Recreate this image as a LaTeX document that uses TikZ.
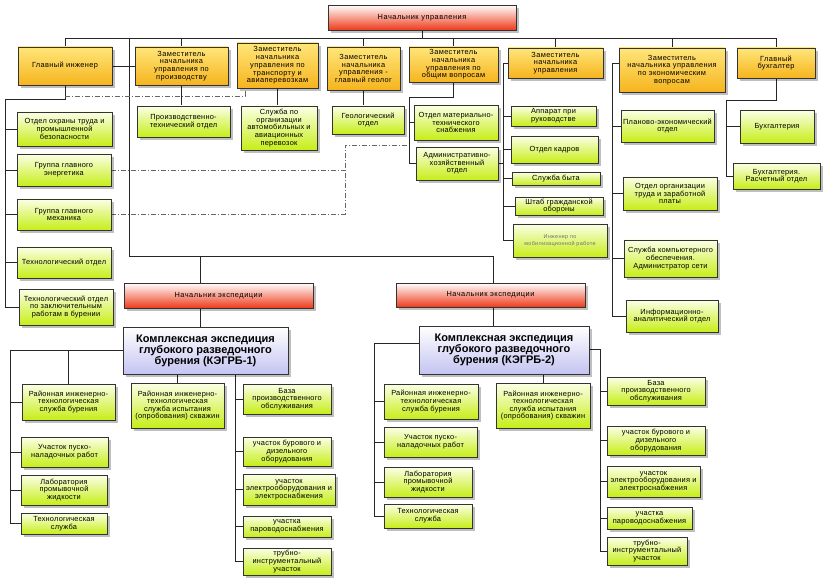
\documentclass[tikz,border=0pt]{standalone}
\usepackage{fontspec}
\newfontfamily\lbl{Liberation Sans}[LetterSpace=3]
\newfontfamily\lblo{Liberation Sans}[LetterSpace=5]
\newfontfamily\lblw{Liberation Sans}[LetterSpace=7]
\newfontfamily\ttl{Liberation Sans}
\usetikzlibrary{shadows,backgrounds}
\definecolor{grtop}{HTML}{FBFFE6}
\definecolor{grbot}{HTML}{C6EE18}
\definecolor{ortop}{HTML}{FFE67A}
\definecolor{orbot}{HTML}{F6B41E}
\definecolor{rdbot}{HTML}{EE3A1A}
\definecolor{lvbot}{HTML}{C4C4F2}
\newcommand\bx[7]{\node[#2,anchor=north west,minimum width={(#5-#3)*1pt},minimum height={(#6-#4)*1pt}] (#1) at (#3,#4) {#7};}
\tikzset{
 basebox/.style={draw=black!80, line width=0.7pt, inner sep=0.5pt, outer sep=0pt, align=center,
   drop shadow={shadow xshift=3pt, shadow yshift=-3pt, fill=black, opacity=0.25}},
 orbox/.style={basebox, top color=ortop, bottom color=orbot, font=\lblo\fontsize{7.4}{7.7}\selectfont},
 grbox/.style={basebox, top color=grtop, bottom color=grbot, font=\lbl\fontsize{7.4}{7.6}\selectfont},
 rdbox/.style={basebox, top color=white, bottom color=rdbot, font=\lblw\fontsize{7.4}{7.6}\selectfont},
 lvbox/.style={basebox, top color=white, bottom color=lvbot, font=\ttl\bfseries\fontsize{11}{11}\selectfont},
 imbox/.style={grbox, font=\lblo\fontsize{5.5}{6.5}\selectfont, text=black!55},
 conn/.style={draw=black!85, line width=0.7pt},
 dd/.style={draw=black!60, line width=0.7pt, dash pattern=on 5pt off 2pt on 1pt off 2pt},
}
\begin{document}
\begin{tikzpicture}[x=1pt,y=-1pt]
\useasboundingbox (0,0) rectangle (823,583);
% top
\bx{nu}{rdbox}{328}{5}{516}{30}{Начальник управления}
\bx{gi}{orbox}{18}{47}{112}{85}{Главный инженер}
\bx{zp}{orbox}{135}{47}{228}{85}{Заместитель\\начальника\\управления по\\производству}
\bx{zt}{orbox}{237}{43}{318}{88}{Заместитель\\начальника\\управления по\\транспорту и\\авиаперевозкам}
\bx{zg}{orbox}{327}{47}{400}{90}{Заместитель\\начальника\\управления -\\главный геолог}
\bx{zo}{orbox}{409}{47}{498}{82}{Заместитель\\начальника\\управления по\\общим вопросам}
\bx{zn}{orbox}{508}{48}{603}{78}{Заместитель\\начальника\\управления}
\bx{ze}{orbox}{619}{48}{725}{92}{Заместитель\\начальника управления\\по экономическим\\вопросам}
\bx{gb}{orbox}{737}{48}{815}{78}{Главный\\бухгалтер}
% left column
\bx{ot}{grbox}{17}{112}{112}{146}{Отдел охраны труда и\\промышленной\\безопасности}
\bx{ge}{grbox}{17}{154}{111}{186}{Группа главного\\энергетика}
\bx{gm}{grbox}{17}{199}{111}{230}{Группа главного\\механика}
\bx{to}{grbox}{17}{247}{111}{278}{Технологический отдел}
\bx{tz}{grbox}{19}{289}{113}{325}{Технологический отдел\\по заключительным\\работам в бурении}
% middle
\bx{pt}{grbox}{137}{106}{230}{137}{Производственно-\\технический отдел}
\bx{sa}{grbox}{241}{106}{317}{150}{Служба по\\организации\\автомобильных и\\авиационных\\перевозок}
\bx{go}{grbox}{332}{106}{404}{134}{Геологический\\отдел}
\bx{mts}{grbox}{414}{105}{498}{140}{Отдел материально-\\технического\\снабжения}
\bx{ah}{grbox}{416}{147}{498}{180}{Административно-\\хозяйственный\\отдел}
\bx{ap}{grbox}{511}{106}{596}{126}{Аппарат при\\руководстве}
\bx{ok}{grbox}{511}{136}{598}{163}{Отдел кадров}
\bx{sb}{grbox}{512}{172}{600}{185}{Служба быта}
\bx{sh}{grbox}{515}{197}{603}{215}{Штаб гражданской\\обороны}
\bx{im}{imbox}{513}{224}{607}{257}{Инженер по\\мобилизационной работе}
\bx{pe}{grbox}{621}{110}{714}{142}{Планово-экономический\\отдел}
\bx{ou}{grbox}{623}{177}{717}{210}{Отдел организации\\труда и заработной\\платы}
\bx{sk}{grbox}{624}{240}{717}{277}{Служба компьютерного\\обеспечения.\\Администратор сети}
\bx{ia}{grbox}{626}{300}{718}{332}{Информационно-\\аналитический отдел}
\bx{bu}{grbox}{740}{110}{814}{143}{Бухгалтерия}
\bx{br}{grbox}{733}{163}{820}{189}{Бухгалтерия.\\Расчетный отдел}
% expeditions
\bx{ne1}{rdbox}{124}{283}{313}{308}{Начальник экспедиции}
\bx{ne2}{rdbox}{396}{283}{585}{307}{Начальник экспедиции}
\bx{k1}{lvbox}{123}{327}{288}{374}{Комплексная экспедиция\\глубокого разведочного\\бурения (КЭГРБ-1)}
\bx{k2}{lvbox}{419}{326}{589}{374}{Комплексная экспедиция\\глубокого разведочного\\бурения (КЭГРБ-2)}
% KEGRB-1 children
\bx{a1}{grbox}{22}{384}{115}{420}{Районная инженерно-\\технологическая\\служба бурения}
\bx{a2}{grbox}{21}{437}{108}{467}{Участок пуско-\\наладочных работ}
\bx{a3}{grbox}{21}{475}{107}{505}{Лаборатория\\промывочной\\жидкости}
\bx{a4}{grbox}{21}{513}{107}{534}{Технологическая\\служба}
\bx{a5}{grbox}{131}{383}{224}{428}{Районная инженерно-\\технологическая\\служба испытания\\(опробования) скважин}
\bx{b1}{grbox}{243}{384}{331}{414}{База\\производственного\\обслуживания}
\bx{b2}{grbox}{243}{437}{331}{466}{участок бурового и\\дизельного\\оборудования}
\bx{b3}{grbox}{243}{474}{335}{505}{участок\\электрооборудования и\\электроснабжения}
\bx{b4}{grbox}{243}{516}{331}{537}{участка\\пароводоснабжения}
\bx{b5}{grbox}{243}{548}{331}{575}{трубно-\\инструментальный\\участок}
% KEGRB-2 children
\bx{c1}{grbox}{384}{384}{478}{419}{Районная инженерно-\\технологическая\\служба бурения}
\bx{c2}{grbox}{384}{427}{477}{457}{Участок пуско-\\наладочных работ}
\bx{c3}{grbox}{384}{467}{472}{497}{Лаборатория\\промывочной\\жидкости}
\bx{c4}{grbox}{384}{504}{472}{528}{Технологическая\\служба}
\bx{c5}{grbox}{496}{383}{590}{428}{Районная инженерно-\\технологическая\\служба испытания\\(опробования) скважин}
\bx{d1}{grbox}{607}{377}{705}{405}{База\\производственного\\обслуживания}
\bx{d2}{grbox}{607}{426}{705}{455}{участок бурового и\\дизельного\\оборудования}
\bx{d3}{grbox}{607}{466}{700}{497}{участок\\электрооборудования и\\электроснабжения}
\bx{d4}{grbox}{607}{507}{692}{529}{участка\\пароводоснабжения}
\bx{d5}{grbox}{607}{537}{687}{565}{трубно-\\инструментальный\\участок}
% connectors
\begin{scope}[on background layer]
\fill[white] (0,0) rectangle (823,583);
\coordinate (busL) at (65,38);
\coordinate (busR) at (776,38);
\draw[conn] (busL -| gi.north) -- (busR -| gb.north);
\draw[conn] (nu.south) -- (nu.south |- busL);
\foreach \n in {gi,zp,zg,zo,zn,ze,gb} \draw[conn] (\n.north) -- (\n.north |- busL);
\coordinate (v1) at (129,38);
\coordinate (v2) at (129,256);
\coordinate (t1) at (200,256);
\coordinate (t2) at (493,256);
\draw[conn] (v1) -- (v2) -- (t2) -- (t2 |- ne2.north);
\draw[conn] (t1) -- (t1 |- ne1.north);
\draw[conn] (t1 |- ne1.south) -- (t1 |- k1.north);
\draw[conn] (t2 |- ne2.south) -- (t2 |- k2.north);
\draw[conn] (gi.east) -- (zp.west);
\coordinate (lb) at (5,99);
\draw[conn] (gi.south) -- (gi.south |- lb) -- (lb) -- (lb |- tz.west);
\foreach \n in {ot,ge,gm,to,tz} \draw[conn] (lb |- \n.west) -- (\n.west);
\coordinate (dd1) at (245,96);
\draw[dd] (dd1 -| gi.south) -- (dd1) -- (dd1 |- zt.south);
\coordinate (dd2) at (345,145);
\coordinate (zoV) at (409,97);
\draw[dd] (ge.east) -- (ge.east -| dd2);
\draw[dd] (gm.east) -- (gm.east -| dd2) -- (dd2) -- (dd2 -| zoV);
\draw[conn] (zp.south) -- (zp.south |- pt.north);
\draw[conn] (zt.south) -- (zt.south |- sa.north);
\draw[conn] (zg.south) -- (zg.south |- go.north);
\draw[conn] (zo.south) -- (zo.south |- zoV) -- (zoV) -- (zoV |- ah.west);
\foreach \n in {mts,ah} \draw[conn] (zoV |- \n.west) -- (\n.west);
\coordinate (znV) at (503,63);
\draw[conn] (zn.west) -- (zn.west -| znV) -- (znV |- im.west);
\foreach \n in {ap,ok,sb,sh,im} \draw[conn] (znV |- \n.west) -- (\n.west);
\draw[conn] (ah.east) -- (ah.east -| znV);
\coordinate (zeV) at (612,63);
\draw[conn] (zeV -| ze.west) -- (zeV) -- (zeV |- ia.west);
\foreach \n in {pe,ou,sk,ia} \draw[conn] (zeV |- \n.west) -- (\n.west);
\coordinate (gbV) at (726,100);
\draw[conn] (gb.south) -- (gb.south |- gbV) -- (gbV) -- (gbV |- br.west);
\foreach \n in {bu,br} \draw[conn] (gbV |- \n.west) -- (\n.west);
\coordinate (k1L) at (10,350);
\draw[conn] (k1.west |- k1L) -- (k1L) -- (k1L |- a4.west);
\foreach \n in {a1,a2,a3,a4} \draw[conn] (k1L |- \n.west) -- (\n.west);
\draw[conn] (a1.north |- k1L) -- (a1.north);
\draw[conn] (a5.north |- k1.south) -- (a5.north);
\coordinate (k1R) at (235,374);
\draw[conn] (k1R) -- (k1R |- b5.west);
\foreach \n in {b1,b2,b3,b4,b5} \draw[conn] (k1R |- \n.west) -- (\n.west);
\coordinate (k2L) at (374,343);
\draw[conn] (k2.west |- k2L) -- (k2L) -- (k2L |- c4.west);
\foreach \n in {c1,c2,c3,c4} \draw[conn] (k2L |- \n.west) -- (\n.west);
\draw[conn] (c5.north |- k2.south) -- (c5.north);
\coordinate (k2R) at (600,349);
\draw[conn] (k2.east |- k2R) -- (k2R) -- (k2R |- d5.west);
\foreach \n in {d1,d2,d3,d4,d5} \draw[conn] (k2R |- \n.west) -- (\n.west);
\end{scope}
\end{tikzpicture}
\end{document}
